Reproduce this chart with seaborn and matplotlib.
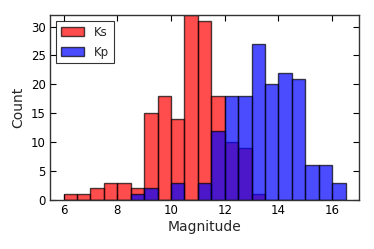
import matplotlib

matplotlib.use("Agg")
import matplotlib.pyplot as plt
import numpy as np
import pandas as pd
import seaborn as sns

# bin edges (width 0.5) and counts
bin_edges = list(np.arange(6.0, 16.51, 0.5))
ks_counts = [1, 1, 2, 3, 3, 2, 15, 18, 14, 32, 31, 18, 10, 9, 1, 0, 0, 0, 0, 0, 0]
kp_counts = [0, 0, 0, 0, 0, 1, 2, 0, 3, 0, 3, 12, 18, 18, 27, 20, 22, 21, 6, 6, 3]

centers = [(a + b) / 2 for a, b in zip(bin_edges[:-1], bin_edges[1:])]
ks = pd.DataFrame({"mag": centers, "n": ks_counts})
kp = pd.DataFrame({"mag": centers, "n": kp_counts})

sns.set_theme(style="ticks", font="DejaVu Sans")
plt.rcParams["font.family"] = ["DejaVu Sans"]

fig = plt.figure(figsize=(3.74, 2.49), dpi=100)
ax = fig.add_axes([0.134, 0.197, 0.826, 0.743])

edge = (0, 0, 0, 0.7)
sns.histplot(data=ks, x="mag", weights="n", bins=bin_edges, color="red", alpha=0.7,
             edgecolor=edge, linewidth=1.0, label="Ks", ax=ax)
sns.histplot(data=kp, x="mag", weights="n", bins=bin_edges, color="blue", alpha=0.7,
             edgecolor=edge, linewidth=1.0, label="Kp", ax=ax)

ax.set_xlim(5.5, 17)
ax.set_ylim(0, 32)
ax.set_xticks([6, 8, 10, 12, 14, 16])
ax.set_yticks([0, 5, 10, 15, 20, 25, 30])
ax.tick_params(direction="in", top=True, right=True, length=4, width=0.8,
               labelsize=8.5, colors="black", pad=3)
for side in ["top", "right", "left", "bottom"]:
    ax.spines[side].set_visible(True)
    ax.spines[side].set_color("#333333")
    ax.spines[side].set_linewidth(1.0)

ax.set_xlabel("Magnitude", fontsize=10, labelpad=2)
ax.set_ylabel("Count", fontsize=10, labelpad=4)

leg = ax.legend(loc="upper left", fontsize=8.5, frameon=True, fancybox=False,
                borderaxespad=0.5, handlelength=2.0, handletextpad=0.8, labelspacing=0.6,
                borderpad=0.4)
leg.get_frame().set_edgecolor("black")
leg.get_frame().set_linewidth(0.8)

fig.savefig("out.png", dpi=100)
